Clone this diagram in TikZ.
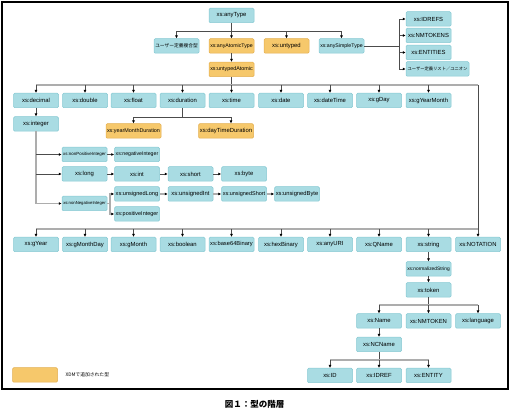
\documentclass[tikz,border=0pt]{standalone}
\usepackage{fontspec}
\usepackage{graphicx}
\setmainfont{Liberation Sans}
\newfontfamily\jp{Noto Sans CJK JP}
\usetikzlibrary{arrows.meta}
\definecolor{boxfill}{HTML}{A9DCE3}
\definecolor{boxline}{HTML}{86C9D2}
\definecolor{orgfill}{HTML}{F6C86B}
\definecolor{orgline}{HTML}{E3AE50}
\newsavebox\lbox
\newcommand\fitt[2]{\sbox\lbox{#2}\ifdim\wd\lbox>#1\resizebox{#1}{!}{\usebox\lbox}\else\usebox\lbox\fi}
\tikzset{
  bx/.style={draw=boxline, fill=boxfill, line width=0.5pt, rounded corners=1.2pt,
    minimum width=45pt, minimum height=14.5pt, inner sep=0pt,
    font=\fontsize{5.9}{7}\selectfont},
  ob/.style={bx, draw=orgline, fill=orgfill},
  ln/.style={draw=black!70, line width=0.6pt},
  gl/.style={draw=black!32, line width=1.3pt},
  ar/.style={-{Latex[length=3pt,width=3pt,color=black]}}
}
\newcommand\nd[5][bx]{\node[#1] (#2) at (#3,#4) {\fitt{42.5pt}{#5}};}
\begin{document}
\begin{tikzpicture}[x=1pt,y=-1pt]
\useasboundingbox (0,0) rectangle (512,414);
\draw[line width=2pt] (2,2) rectangle (508,389);
% top
\nd{any}{231.5}{15.5}{xs:anyType}
\nd{udc}{176.5}{46}{\jp ユーザー定義複合型}
\nd[ob]{aat}{231.5}{46}{xs:anyAtomicType}
\nd[ob]{uta}{231.5}{69.5}{xs:untypedAtomic}
\nd[ob]{unt}{286.5}{46}{xs:untyped}
\nd{ast}{341.5}{46}{xs:anySimpleType}
\nd{idrefs}{428.5}{19}{xs:IDREFS}
\nd{nmtokens}{428.5}{35.5}{xs:NMTOKENS}
\nd{entities}{428.5}{52.5}{xs:ENTITIES}
\node[bx, minimum width=63pt] (udl) at (437.5,69) {\fitt{60pt}{\jp ユーザー定義リスト／ユニオン}};
% row 2
\nd{dec}{36}{100.5}{xs:decimal}
\nd{dbl}{85}{100.5}{xs:double}
\nd{flt}{133.5}{100.5}{xs:float}
\nd{dur}{182.5}{100.5}{xs:duration}
\nd{tim}{231.5}{100.5}{xs:time}
\nd{dat}{281}{100.5}{xs:date}
\nd{dtm}{330}{100.5}{xs:dateTime}
\nd{gda}{379}{100.5}{xs:gDay}
\nd{gym}{428.5}{100.5}{xs:gYearMonth}
\nd{int}{36}{124}{xs:integer}
\node[ob, minimum width=55pt] (ymd) at (133.5,131) {\fitt{53pt}{xs:yearMonthDuration}};
\node[ob, minimum width=55pt] (dtd) at (226,131) {\fitt{53pt}{xs:dayTimeDuration}};
% integer tree
\nd{npi}{84.5}{154.5}{xs:nonPositiveInteger}
\nd{neg}{137}{154.5}{xs:negativeInteger}
\nd{lng}{84.5}{174}{xs:long}
\nd{ii}{137}{174}{xs:int}
\nd{sht}{190.5}{174}{xs:short}
\nd{byt}{244}{174}{xs:byte}
\nd{nni}{84.5}{203.5}{xs:nonNegativeInteger}
\nd{ul}{137}{194}{xs:unsignedLong}
\nd{pi}{137}{214}{xs:positiveInteger}
\nd{ui}{190.5}{194}{xs:unsignedInt}
\nd{us}{244}{194}{xs:unsignedShort}
\nd{ub}{297}{194}{xs:unsignedByte}
% row 3
\nd{gyr}{36}{244.5}{xs:gYear}
\nd{gmd}{85}{244.5}{xs:gMonthDay}
\nd{gmo}{133.5}{244.5}{xs:gMonth}
\nd{boo}{182.5}{244.5}{xs:boolean}
\nd{b64}{231.5}{244.5}{xs:base64Binary}
\nd{hex}{281}{244.5}{xs:hexBinary}
\nd{uri}{330}{244.5}{xs:anyURI}
\nd{qn}{379}{244.5}{xs:QName}
\nd{str}{428.5}{244.5}{xs:string}
\nd{nota}{478}{244.5}{xs:NOTATION}
\nd{ns}{428.5}{269}{xs:normalizedString}
\nd{tok}{428.5}{290}{xs:token}
\nd{nam}{379}{321}{xs:Name}
\nd{nmt}{428.5}{321}{xs:NMTOKEN}
\nd{lan}{478}{321}{xs:language}
\nd{ncn}{379}{344.5}{xs:NCName}
\nd{id}{330}{375.5}{xs:ID}
\nd{idref}{379}{375.5}{xs:IDREF}
\nd{ent}{428.5}{375.5}{xs:ENTITY}
% legend + caption
\node[ob] (leg) at (35,375) {};
\node[anchor=west, font=\jp\fontsize{4.8}{5}\selectfont] (legt) at (62,375) {XDMで追加された型};
\node[font=\jp\bfseries\fontsize{8.5}{9}\selectfont] (cap) at (254.5,404) {図１：型の階層};
% connectors top
\coordinate (b1) at (231.5,31);
\draw[ln] (any.south) -- (b1);
\draw[ln,ar] (b1) -| (udc.north);
\draw[ln,ar] (b1) -- (aat.north);
\draw[ln,ar] (b1) -| (unt.north);
\draw[ln,ar] (b1) -| (ast.north);
\draw[ln,ar] (aat.south) -- (uta.north);
\coordinate (b2) at (399,46);
\draw[ln] (ast.east) -- (b2);
\foreach \t in {idrefs,nmtokens,entities,udl} \draw[ln,ar] (b2) |- (\t.west);
% bus 1
\coordinate (b3) at (231.5,85);
\coordinate (bl) at (36,85);
\coordinate (br) at (478,85);
\coordinate (c2) at (478,229);
\coordinate (cl) at (36,229);
\draw[ln] (uta.south) -- (b3);
\draw[gl] (bl) -- (br);
\draw[ln] (br) -- (c2);
\draw[gl] (cl) -- (c2);
\foreach \t in {dec,dbl,flt,dur,tim,dat,dtm,gda,gym} \draw[ln,ar] (\t.north |- b3) -- (\t.north);
\foreach \t in {gyr,gmd,gmo,boo,b64,hex,uri,qn,str} \draw[ln,ar] (\t.north |- c2) -- (\t.north);
\draw[ln,ar] (c2) -- (nota.north);
% decimal
\draw[ln,ar] (dec.south) -- (int.north);
\coordinate (b4) at (182.5,117);
\draw[ln] (dur.south) -- (b4);
\draw[ln,ar] (b4) -| (ymd.north);
\draw[ln,ar] (b4) -| ([xshift=5pt]dtd.north);
% integer
\draw[gl,ar] (int.south) |- (nni.west);
\draw[ln,ar] (int.south |- npi.west) -- (npi.west);
\draw[ln,ar] (int.south |- lng.west) -- (lng.west);
\draw[ln,ar] (npi) -- (neg);
\draw[ln,ar] (lng) -- (ii);
\draw[ln,ar] (ii) -- (sht);
\draw[ln,ar] (sht) -- (byt);
\coordinate (b5) at (110,203.5);
\draw[gl] (nni.east) -- (b5);
\draw[gl,ar] (b5) |- (ul.west);
\draw[gl,ar] (b5) |- (pi.west);
\draw[gl,ar] (ul) -- (ui);
\draw[gl,ar] (ui) -- (us);
\draw[gl,ar] (us) -- (ub);
% string
\draw[ln,ar] (str.south) -- (ns.north);
\draw[ln,ar] (ns.south) -- (tok.north);
\coordinate (b6) at (428.5,305);
\draw[ln] (tok.south) -- (b6);
\draw[gl] (nam.north |- b6) -- (lan.north |- b6);
\foreach \t in {nam,nmt,lan} \draw[ln,ar] (\t.north |- b6) -- (\t.north);
\draw[ln,ar] (nam.south) -- (ncn.north);
\coordinate (b7) at (379,360);
\draw[ln] (ncn.south) -- (b7);
\draw[gl] (id.north |- b7) -- (ent.north |- b7);
\foreach \t in {id,idref,ent} \draw[ln,ar] (\t.north |- b7) -- (\t.north);
\end{tikzpicture}
\end{document}
